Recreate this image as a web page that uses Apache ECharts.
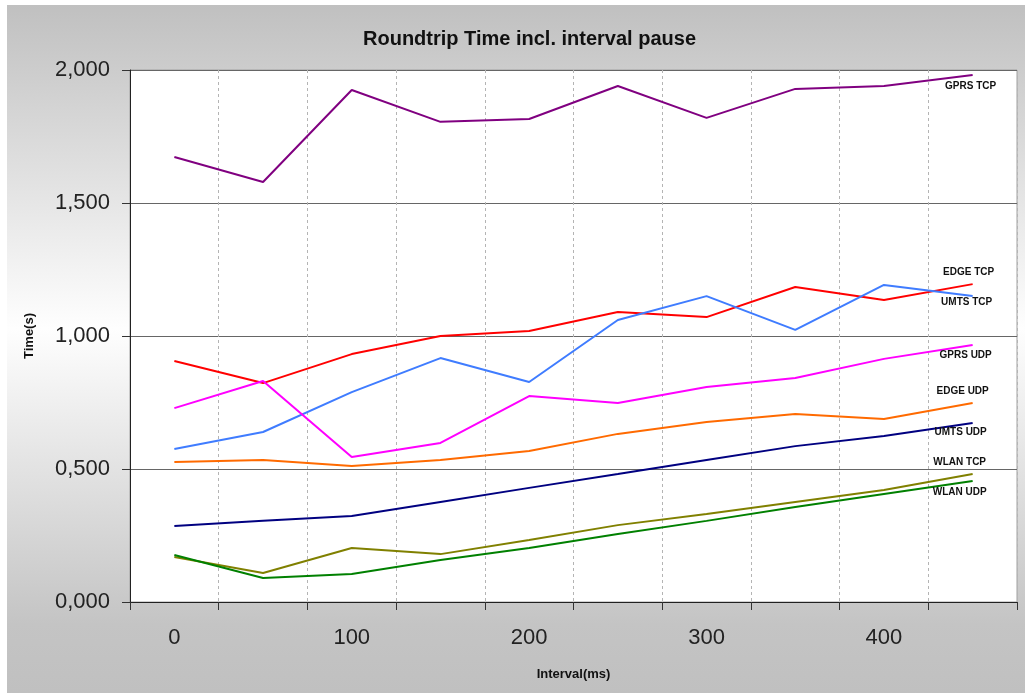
<!DOCTYPE html>
<html>
<head>
<meta charset="utf-8">
<script src="https://cdn.jsdelivr.net/npm/echarts@6/dist/echarts.min.js"></script>
<style>
  html, body { margin: 0; padding: 0; background: #fff; }
  #chart { width: 1030px; height: 697px; }
</style>
</head>
<body>
<div id="chart"></div>
<script>
var chart = echarts.init(document.getElementById('chart'));

// interval in ms
var intervals = ['0', '50', '100', '150', '200', '250', '300', '350', '400', '450'];
var yTicks = [0, 0.5, 1, 1.5, 2];

// roundtrip time in s
var gprsTcp = [1.673, 1.579, 1.925, 1.805, 1.816, 1.940, 1.820, 1.929, 1.940, 1.981];
var edgeTcp = [0.906, 0.823, 0.932, 1.000, 1.019, 1.090, 1.071, 1.184, 1.135, 1.195];
var umtsTcp = [0.575, 0.639, 0.789, 0.917, 0.827, 1.060, 1.150, 1.023, 1.192, 1.150];
var gprsUdp = [0.729, 0.831, 0.545, 0.598, 0.774, 0.748, 0.808, 0.842, 0.914, 0.966];
var edgeUdp = [0.526, 0.534, 0.511, 0.534, 0.568, 0.632, 0.677, 0.707, 0.688, 0.748];
var umtsUdp = [0.286, 0.305, 0.323, 0.376, 0.429, 0.481, 0.534, 0.586, 0.624, 0.673];
var wlanTcp = [0.169, 0.109, 0.203, 0.180, 0.233, 0.289, 0.331, 0.376, 0.421, 0.481];
var wlanUdp = [0.177, 0.090, 0.105, 0.158, 0.203, 0.256, 0.305, 0.357, 0.406, 0.455];

var names = ['GPRS TCP', 'EDGE TCP', 'UMTS TCP', 'GPRS UDP', 'EDGE UDP', 'UMTS UDP', 'WLAN TCP', 'WLAN UDP'];
var values = [gprsTcp, edgeTcp, umtsTcp, gprsUdp, edgeUdp, umtsUdp, wlanTcp, wlanUdp];
var colors = ['#800080', '#ff0000', '#3f7cff', '#ff00ff', '#ff6a00', '#000080', '#808000', '#008000'];
// where the name sits next to the line end
var labelOffsets = [[-2, 11], [-4, -12], [-6, 6], [-7, 10], [-10, -12], [-12, 9], [-13, -12], [-13, 11]];

var series = [];
for (var i = 0; i < names.length; i++) {
    series.push({
        name: names[i],
        type: 'line',
        data: values[i],
        showSymbol: false,
        symbol: 'none',
        lineStyle: { color: colors[i], width: 2 },
        itemStyle: { color: colors[i] },
        endLabel: {
            show: true,
            formatter: '{a}',
            color: '#111',
            fontFamily: 'Liberation Sans, Arial',
            fontSize: 10,
            fontWeight: 'bold',
            align: 'center',
            verticalAlign: 'middle',
            distance: 0,
            offset: labelOffsets[i]
        }
    });
}

var option = {
    animation: false,
    textStyle: { fontFamily: 'Liberation Sans, Arial' },
    graphic: [{
        type: 'rect',
        left: 7,
        top: 5,
        z: -10,
        shape: { width: 1018, height: 688 },
        style: {
            fill: new echarts.graphic.LinearGradient(0, 0, 0, 1, [
                { offset: 0, color: '#c0c0c0' },
                { offset: 0.47, color: '#fefefe' },
                { offset: 0.9, color: '#c4c4c4' },
                { offset: 1, color: '#c0c0c0' }
            ])
        }
    }],
    title: {
        text: 'Roundtrip Time incl. interval pause',
        left: 358,
        top: 24,
        textStyle: { fontSize: 20, fontWeight: 'bold', color: '#111', fontFamily: 'Liberation Sans, Arial' }
    },
    grid: {
        left: 130,
        right: 13,
        top: 70,
        bottom: 95,
        show: true,
        backgroundColor: '#fff',
        borderColor: '#a0a0a0',
        borderWidth: 1
    },
    xAxis: {
        type: 'category',
        boundaryGap: true,
        data: intervals,
        name: 'Interval(ms)',
        nameLocation: 'middle',
        nameGap: 66,
        nameTextStyle: { fontSize: 13, fontWeight: 'bold', color: '#111' },
        axisLine: { lineStyle: { color: '#222', width: 1 } },
        axisTick: { show: true, interval: 0, length: 8, lineStyle: { color: '#333' } },
        axisLabel: { interval: 1, fontSize: 22, color: '#222', margin: 25 },
        splitLine: { show: true, interval: 0, lineStyle: { color: '#b4b4b4', type: [3, 3] } }
    },
    yAxis: {
        type: 'value',
        min: yTicks[0],
        max: yTicks[yTicks.length - 1],
        interval: 0.5,
        name: 'Time(s)',
        nameLocation: 'middle',
        nameGap: 94,
        nameRotate: 90,
        nameTextStyle: { fontSize: 13, fontWeight: 'bold', color: '#111' },
        axisLine: { show: true, lineStyle: { color: '#222', width: 1 } },
        axisTick: { show: true, length: 8, lineStyle: { color: '#333' } },
        axisLabel: {
            fontSize: 22,
            color: '#222',
            margin: 20,
            formatter: function (v) { return v.toFixed(3).replace('.', ','); }
        },
        splitLine: { show: true, lineStyle: { color: '#666', width: 1 } }
    },
    series: series
};
chart.setOption(option);
</script>
</body>
</html>
